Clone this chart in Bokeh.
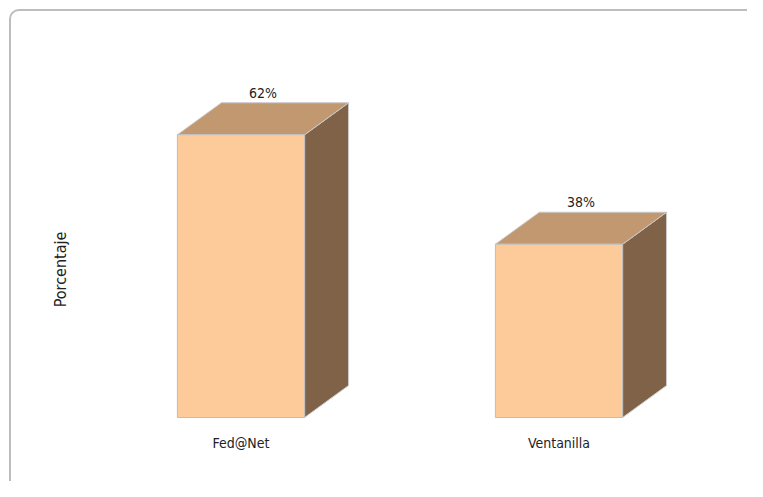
import math
from bokeh.plotting import figure
from bokeh.models import Range1d
from bokeh.core.properties import value
from bokeh.embed import file_html
from bokeh.resources import INLINE

# ---- data ----
categories = ["Fed@Net", "Ventanilla"]
percent = [62, 38]
percent_labels = ["62%", "38%"]
axis_title = "Porcentaje"

# ---- style ----
FONT = "'DejaVu Sans Condensed', 'Liberation Sans Narrow', 'Open Sans', sans-serif"
W, H = 747, 481
PX_X = 318.0       # pixels per category unit
PX_Y = 4.56        # pixels per percent
X0_PX = 240.5      # pixel position of first category center
Y0_PX = 417.0      # pixel position of 0 %
bar_w = 0.4
dx = 44 / PX_X
dy = 32 / PX_Y

x_lo = -X0_PX / PX_X
x_hi = (W - X0_PX) / PX_X
y_hi = Y0_PX / PX_Y
y_lo = -(H - Y0_PX) / PX_Y

p = figure(width=W, height=H, output_backend="svg", toolbar_location=None,
           x_range=Range1d(x_lo, x_hi), y_range=Range1d(y_lo, y_hi),
           min_border=0)
p.axis.visible = False
p.grid.visible = False
p.outline_line_color = None
p.background_fill_color = "white"
p.border_fill_color = "white"

# rounded frame
p.quad(left=[x_lo + 9.5 / PX_X], right=[x_hi + 1.0], top=[y_hi - 9.5 / PX_Y],
       bottom=[y_lo - 20], fill_color=None, line_color="#BDBDBD", line_width=2,
       border_radius=9)

xs = list(range(len(categories)))
front_xs, front_ys, top_xs, top_ys, side_xs, side_ys = [], [], [], [], [], []
for i, v in zip(xs, percent):
    l, r = i - bar_w / 2, i + bar_w / 2
    front_xs.append([l, r, r, l]); front_ys.append([0, 0, v, v])
    top_xs.append([l, r, r + dx, l + dx]); top_ys.append([v, v, v + dy, v + dy])
    side_xs.append([r, r + dx, r + dx, r]); side_ys.append([0, dy, v + dy, v])

p.patches(side_xs, side_ys, fill_color="#7F6248", line_color="#D0D0D0", line_width=1)
p.patches(top_xs, top_ys, fill_color="#C1986F", line_color="#C8C8C8", line_width=1)
p.patches(front_xs, front_ys, fill_color="#FDCB9A", line_color="#BEBEBE", line_width=1)

# value labels
p.text(x=[i + dx / 2 for i in xs], y=[v + dy + 2.2 for v in percent], text=percent_labels,
       text_font=value(FONT), text_font_size="14px", text_color="#222222",
       text_align="center", text_baseline="middle")

# category labels
p.text(x=xs, y=[-25 / PX_Y] * len(xs), text=categories,
       text_font=value(FONT), text_font_size="14px", text_color="#222222",
       text_align="center", text_baseline="middle")

# axis title
p.text(x=[x_lo + 60 / PX_X], y=[y_hi - 269 / PX_Y], text=[axis_title], angle=math.pi / 2,
       text_font=value(FONT), text_font_size="16px", text_color="#222222",
       text_align="center", text_baseline="middle")

open("out.html", "w").write(file_html(p, INLINE))
